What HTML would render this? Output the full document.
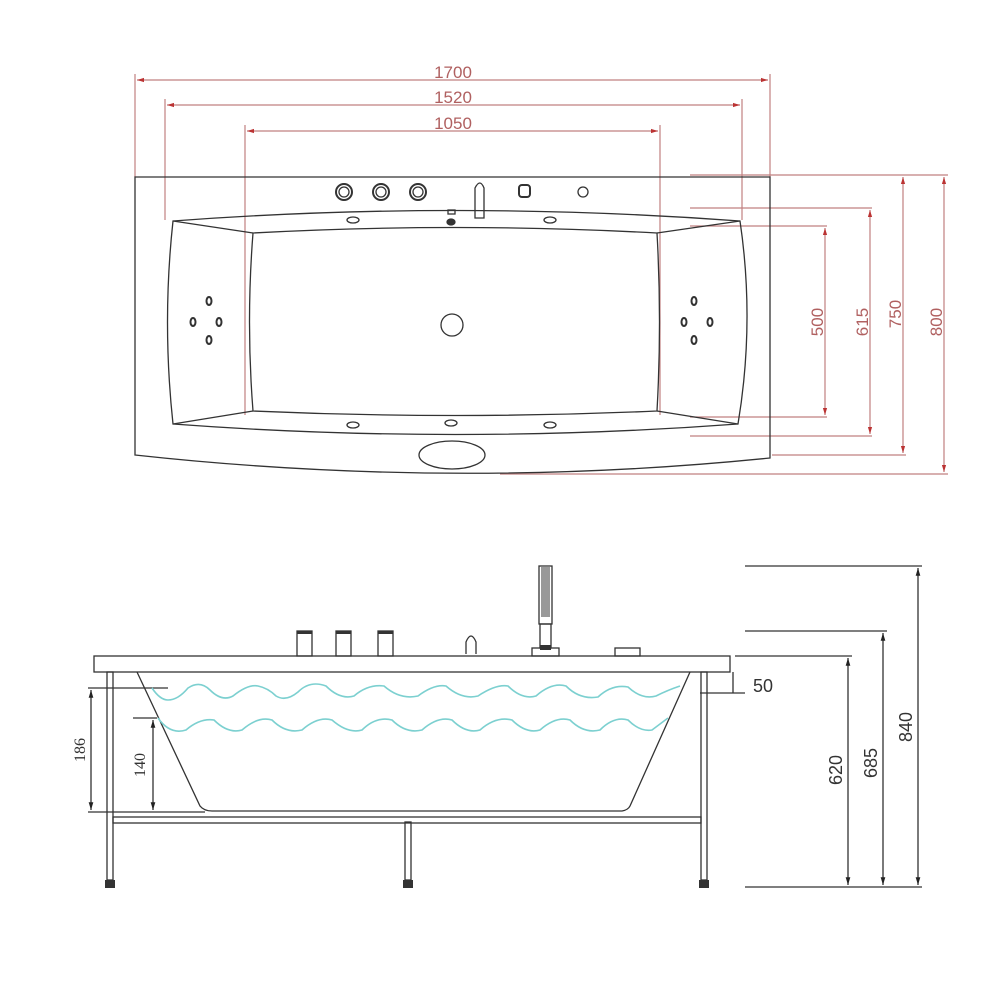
<!DOCTYPE html>
<html><head><meta charset="utf-8"><style>html,body{margin:0;padding:0;background:#fff}svg{display:block}</style></head>
<body>
<svg width="1000" height="1000" viewBox="0 0 1000 1000" xmlns="http://www.w3.org/2000/svg">
<defs>
<marker id="a" viewBox="0 0 10 10" refX="10" refY="5" markerWidth="6" markerHeight="6" orient="auto-start-reverse"><path d="M0,2 L10,5 L0,8 z" fill="#b33"/></marker>
<marker id="k" viewBox="0 0 10 10" refX="10" refY="5" markerWidth="6" markerHeight="6" orient="auto-start-reverse"><path d="M0,2 L10,5 L0,8 z" fill="#222"/></marker>
</defs>
<g stroke="#c08080" stroke-width="1.2" fill="none">
<!-- top dims -->
<line x1="135" y1="74" x2="135" y2="177"/><line x1="770" y1="74" x2="770" y2="177"/>
<line x1="137" y1="80" x2="768" y2="80" marker-start="url(#a)" marker-end="url(#a)"/>
<line x1="165" y1="99" x2="165" y2="220"/><line x1="742" y1="99" x2="742" y2="220"/>
<line x1="167" y1="105" x2="740" y2="105" marker-start="url(#a)" marker-end="url(#a)"/>
<line x1="245" y1="125" x2="245" y2="415"/><line x1="660" y1="125" x2="660" y2="415"/>
<line x1="247" y1="131" x2="658" y2="131" marker-start="url(#a)" marker-end="url(#a)"/>
<!-- right dims -->
<line x1="690" y1="175" x2="948" y2="175"/><line x1="500" y1="474" x2="948" y2="474"/>
<line x1="772" y1="455" x2="906" y2="455"/>
<line x1="690" y1="208" x2="872" y2="208"/><line x1="690" y1="436" x2="872" y2="436"/>
<line x1="690" y1="226" x2="827" y2="226"/><line x1="690" y1="417" x2="827" y2="417"/>
<line x1="944" y1="177" x2="944" y2="472" marker-start="url(#a)" marker-end="url(#a)"/>
<line x1="903" y1="177" x2="903" y2="453" marker-start="url(#a)" marker-end="url(#a)"/>
<line x1="870" y1="210" x2="870" y2="434" marker-start="url(#a)" marker-end="url(#a)"/>
<line x1="825" y1="228" x2="825" y2="415" marker-start="url(#a)" marker-end="url(#a)"/>
</g>
<g fill="#b06060" font-family="Liberation Sans, sans-serif" font-size="17">
<text x="453" y="78" text-anchor="middle">1700</text>
<text x="453" y="103" text-anchor="middle">1520</text>
<text x="453" y="129" text-anchor="middle">1050</text>
<text transform="translate(823,322) rotate(-90)" text-anchor="middle">500</text>
<text transform="translate(868,322) rotate(-90)" text-anchor="middle">615</text>
<text transform="translate(901,314) rotate(-90)" text-anchor="middle">750</text>
<text transform="translate(942,322) rotate(-90)" text-anchor="middle">800</text>
</g>
<!-- top view tub -->
<g stroke="#333" stroke-width="1.3" fill="none">
<path d="M135,177 L770,177 L770,458 Q455,490 135,455 Z"/>
<path d="M173,221 Q455,200 740,221 Q755,322 738,424 Q455,445 173,424 Q162,322 173,221 Z"/>
<path d="M253,233 Q455,222 657,233 Q662,322 657,411 Q455,420 253,411 Q246,322 253,233 Z"/>
<line x1="173" y1="221" x2="253" y2="233"/><line x1="740" y1="221" x2="657" y2="233"/>
<line x1="173" y1="424" x2="253" y2="411"/><line x1="738" y1="424" x2="657" y2="411"/>
<ellipse cx="452" cy="455" rx="33" ry="14"/>
<circle cx="452" cy="325" r="11"/>
<circle cx="344" cy="192" r="8" stroke-width="2"/><circle cx="344" cy="192" r="5"/>
<circle cx="381" cy="192" r="8" stroke-width="2"/><circle cx="381" cy="192" r="5"/>
<circle cx="418" cy="192" r="8" stroke-width="2"/><circle cx="418" cy="192" r="5"/>
<rect x="519" y="185" width="11" height="12" rx="3" stroke-width="2"/>
<circle cx="583" cy="192" r="5"/>
<path d="M475,218 L475,188 Q480,178 484,188 L484,218 Z"/>
<rect x="448" y="210" width="7" height="4"/>
<ellipse cx="451" cy="222" rx="4" ry="3" fill="#333"/>
<ellipse cx="353" cy="220" rx="6" ry="3"/><ellipse cx="550" cy="220" rx="6" ry="3"/>
<ellipse cx="353" cy="425" rx="6" ry="3"/><ellipse cx="451" cy="423" rx="6" ry="3"/><ellipse cx="550" cy="425" rx="6" ry="3"/>
<g stroke-width="2">
<ellipse cx="209" cy="301" rx="2.5" ry="4"/><ellipse cx="193" cy="322" rx="2.5" ry="4"/><ellipse cx="219" cy="322" rx="2.5" ry="4"/><ellipse cx="209" cy="340" rx="2.5" ry="4"/>
<ellipse cx="694" cy="301" rx="2.5" ry="4"/><ellipse cx="684" cy="322" rx="2.5" ry="4"/><ellipse cx="710" cy="322" rx="2.5" ry="4"/><ellipse cx="694" cy="340" rx="2.5" ry="4"/>
</g>
</g>
<!-- side view -->
<g stroke="#333" stroke-width="1.3" fill="none">
<rect x="94" y="656" width="636" height="16"/>
<rect x="107" y="672" width="6" height="208"/>
<rect x="701" y="672" width="6" height="208"/>
<rect x="405" y="822" width="6" height="58"/>
<rect x="113" y="817" width="588" height="6"/>
<path d="M137,672 L200,806 Q204,811 212,811 L622,811 Q628,810 630,806 L690,672"/>
<rect x="297" y="631" width="15" height="25"/><rect x="336" y="631" width="15" height="25"/><rect x="378" y="631" width="15" height="25"/>
<path d="M466,654 L466,642 Q471,630 476,642 L476,654"/>
<rect x="539" y="566" width="13" height="58"/><rect x="540" y="624" width="11" height="24"/>
<rect x="532" y="648" width="27" height="8"/>
<rect x="615" y="648" width="25" height="8"/>
<!-- dims black -->
<line x1="88" y1="688" x2="168" y2="688"/>
<line x1="88" y1="812" x2="205" y2="812"/>
<line x1="91" y1="690" x2="91" y2="810" marker-start="url(#k)" marker-end="url(#k)"/>
<line x1="153" y1="720" x2="153" y2="810" marker-start="url(#k)" marker-end="url(#k)"/>
<line x1="133" y1="718" x2="157" y2="718"/>
<line x1="733" y1="672" x2="733" y2="693"/>
<line x1="700" y1="693" x2="745" y2="693"/>
<line x1="745" y1="566" x2="922" y2="566"/>
<line x1="745" y1="631" x2="887" y2="631"/>
<line x1="735" y1="656" x2="852" y2="656"/>
<line x1="745" y1="887" x2="922" y2="887"/>
<line x1="918" y1="568" x2="918" y2="885" marker-start="url(#k)" marker-end="url(#k)"/>
<line x1="883" y1="633" x2="883" y2="885" marker-start="url(#k)" marker-end="url(#k)"/>
<line x1="848" y1="658" x2="848" y2="885" marker-start="url(#k)" marker-end="url(#k)"/>
</g>
<g fill="#333">
<rect x="105" y="880" width="10" height="8"/><rect x="403" y="880" width="10" height="8"/><rect x="699" y="880" width="10" height="8"/>
<rect x="297" y="631" width="15" height="3"/><rect x="336" y="631" width="15" height="3"/><rect x="378" y="631" width="15" height="3"/>
<rect x="541" y="567" width="9" height="50" opacity="0.5"/>
<rect x="540" y="645" width="11" height="5"/>
</g>
<g stroke="#7cd0d0" stroke-width="1.6" fill="none">
<path d="M152,688 Q160,700 168,700 Q178,700 188,688 Q200,680 210,690 Q222,702 233,696 Q248,684 258,686 Q268,688 276,696 Q286,702 298,692 Q310,680 326,686 Q340,700 354,696 Q368,684 384,686 Q400,700 418,696 Q434,684 446,686 Q462,700 478,696 Q496,684 508,686 Q522,700 536,696 Q552,682 566,686 Q580,700 598,697 Q612,684 628,687 Q642,700 656,696 Q668,690 680,686"/>
<path d="M158,718 Q170,735 186,730 Q200,718 214,720 Q228,734 242,730 Q258,716 272,720 Q286,734 302,730 Q318,716 332,720 Q348,734 362,730 Q376,716 392,720 Q406,734 422,730 Q438,716 452,720 Q466,734 480,730 Q496,716 512,720 Q526,734 540,730 Q556,716 570,720 Q584,734 600,730 Q614,716 628,720 Q640,732 652,730 Q660,724 668,718"/>
</g>
<g fill="#333" font-family="Liberation Serif, serif" font-size="16">
<text transform="translate(85,750) rotate(-90)" text-anchor="middle">186</text>
<text transform="translate(145,765) rotate(-90)" text-anchor="middle">140</text>
</g>
<g fill="#333" font-family="Liberation Sans, sans-serif" font-size="18">
<text x="753" y="692">50</text>
<text transform="translate(912,727) rotate(-90)" text-anchor="middle">840</text>
<text transform="translate(877,763) rotate(-90)" text-anchor="middle">685</text>
<text transform="translate(842,770) rotate(-90)" text-anchor="middle">620</text>
</g>
</svg>
</body></html>
